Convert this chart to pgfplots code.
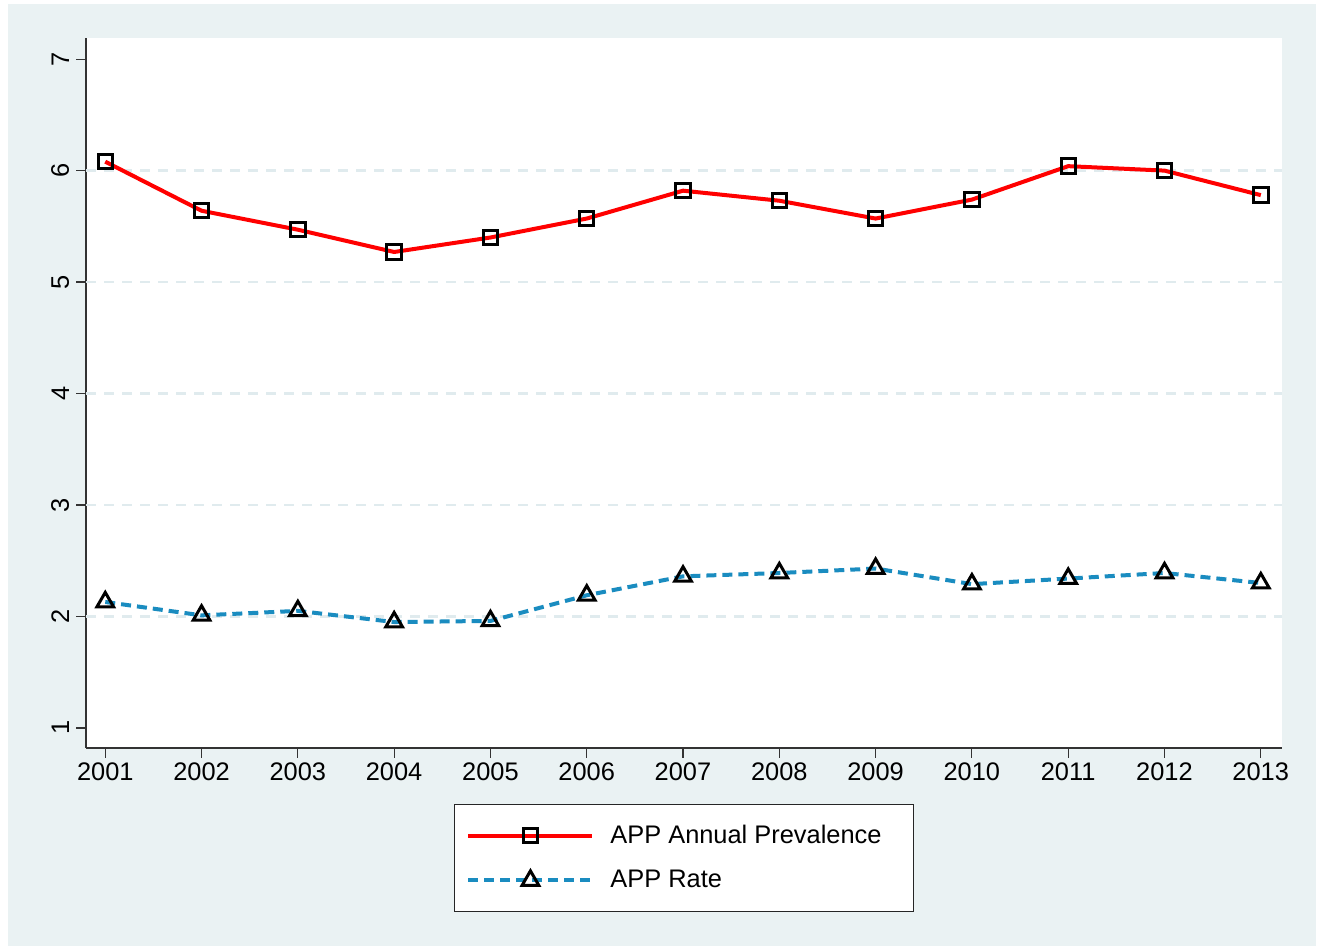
\documentclass[border=0pt]{standalone}
\usepackage{fontspec}
\setmainfont{Liberation Sans}
\usepackage{pgfplots}
\pgfplotsset{compat=1.18}
\definecolor{bgblue}{HTML}{EAF2F3}
\definecolor{appblue}{HTML}{1A8CC0}
\definecolor{appred}{HTML}{FF0000}
\definecolor{gridc}{HTML}{E0EBEE}
\begin{document}
\fontsize{12.7}{15}\selectfont
\begin{tikzpicture}
\fill[white] (0,0) rectangle (661.5pt,475.5pt);
\fill[bgblue] (4pt,2.5pt) rectangle (658pt,473.5pt);
\begin{axis}[
 at={(43pt,101.5pt)}, anchor=south west,
 scale only axis, width=598pt, height=355pt,
 xmin=2000.8, xmax=2013.22, ymin=0.82, ymax=7.19,
 axis background/.style={fill=white},
 axis x line*=bottom, axis y line*=left,
 axis line style={draw=black!80, line width=0.6pt, -},
 xtick={2001,...,2013}, ytick={1,...,7},
 tick align=outside, major tick length=5pt,
 tick style={draw=black!80, line width=0.6pt},
 /pgf/number format/1000 sep={},
 /pgf/number format/assume math mode=true,
 tick label style={font=\fontsize{12.7}{15}\selectfont},
 yticklabel style={rotate=90, anchor=south, yshift=-1pt},
 xticklabel style={yshift=2pt},
 extra y ticks={2,3,4,5,6}, extra y tick labels={},
 extra y tick style={ymajorgrids=true, major tick length=0pt,
   major grid style={draw=gridc, line width=1.2pt, dash pattern=on 5pt off 4pt}},
 legend style={at={(0.5,-0.0789)}, anchor=north, draw=black!85, line width=0.6pt,
   fill=white, inner xsep=6pt, inner ysep=7pt, row sep=5.5pt,
   font=\fontsize{12.7}{15}\selectfont,
   nodes={inner sep=3pt},
   /tikz/every odd column/.append style={column sep=5pt},
   /tikz/every even column/.append style={column sep=8pt}},
 legend cell align=left,
 legend image code/.code={\draw[mark repeat=2, mark phase=2] plot coordinates {(0pt,0pt) (31pt,0pt) (62pt,0pt)};},
]
\addplot[appred, line width=2pt, mark=square, mark size=3.6pt,
  mark options={draw=black, fill=none, line width=1.5pt, solid}]
coordinates {
(2001,6.08) (2002,5.64) (2003,5.47) (2004,5.27) (2005,5.40) (2006,5.57)
(2007,5.82) (2008,5.73) (2009,5.57) (2010,5.74) (2011,6.04) (2012,6.00) (2013,5.78)
};
\addlegendentry{APP Annual Prevalence\rule{7pt}{0pt}}
\addplot[appblue, line width=2pt, dash pattern=on 5pt off 3pt, mark=triangle, mark size=4.8pt,
  mark options={draw=black, fill=none, line width=1.5pt, solid}]
coordinates {
(2001,2.13) (2002,2.01) (2003,2.05) (2004,1.95) (2005,1.96) (2006,2.19)
(2007,2.36) (2008,2.39) (2009,2.43) (2010,2.29) (2011,2.34) (2012,2.39) (2013,2.30)
};
\addlegendentry{APP Rate}
\end{axis}
\end{tikzpicture}
\end{document}
